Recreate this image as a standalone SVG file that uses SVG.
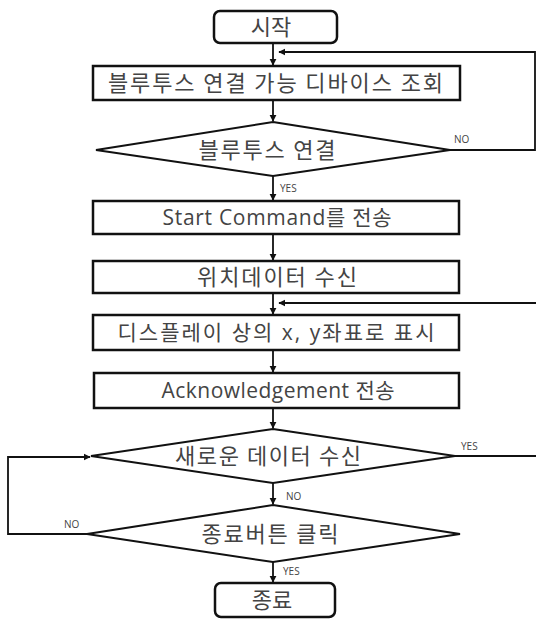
<svg xmlns="http://www.w3.org/2000/svg" width="536" height="619" viewBox="0 0 536 619">
<style>
.box{fill:#fff;stroke:#111;stroke-width:2.5}
.dia{fill:#fff;stroke:#111;stroke-width:2}
.t{font-family:"Open Sans","Noto Sans CJK KR",sans-serif;font-size:21px;fill:#444;text-anchor:middle}
.k{font-family:"Noto Sans CJK KR",sans-serif;font-size:22px;fill:#444;text-anchor:middle}
.lb{font-family:"Open Sans","Liberation Sans",sans-serif;font-size:10px;fill:#444}
.c{fill:none;stroke:#111;stroke-width:1.8}
</style>
<defs>
<marker id="ah" viewBox="0 0 10 10" refX="9" refY="5" markerWidth="4" markerHeight="4" orient="auto" markerUnits="strokeWidth">
<path d="M0,0 L10,5 L0,10 z" fill="#111"/>
</marker>
</defs>
<rect width="536" height="619" fill="#fff"/>
<g id="connectors">
<line class="c" x1="273" y1="43" x2="273" y2="65" marker-end="url(#ah)"/>
<line class="c" x1="273" y1="100" x2="273" y2="121" marker-end="url(#ah)"/>
<line class="c" x1="273" y1="176" x2="273" y2="200" marker-end="url(#ah)"/>
<line class="c" x1="273" y1="234" x2="273" y2="260" marker-end="url(#ah)"/>
<line class="c" x1="273" y1="293" x2="273" y2="314" marker-end="url(#ah)"/>
<line class="c" x1="273" y1="350" x2="273" y2="372" marker-end="url(#ah)"/>
<line class="c" x1="273" y1="408" x2="273" y2="428" marker-end="url(#ah)"/>
<line class="c" x1="273" y1="483" x2="273" y2="504" marker-end="url(#ah)"/>
<line class="c" x1="273" y1="562" x2="273" y2="582" marker-end="url(#ah)"/>
<polyline class="c" points="450,150 535,150 535,52 279,52" marker-end="url(#ah)"/>
<line class="c" x1="536" y1="303" x2="279" y2="303" marker-end="url(#ah)"/>
<line class="c" x1="455" y1="456" x2="536" y2="456"/>
<polyline class="c" points="87,534 8,534 8,457 90,457" marker-end="url(#ah)"/>
<text class="lb" x="454" y="143">NO</text>
<text class="lb" x="280" y="192">YES</text>
<text class="lb" x="461" y="450">YES</text>
<text class="lb" x="286" y="500">NO</text>
<text class="lb" x="64" y="528">NO</text>
<text class="lb" x="283" y="575">YES</text>
</g>
<g id="start">
<rect class="box" x="214" y="11" width="123" height="32" rx="6"/>
<text class="k" x="271" y="35">시작</text>
</g>
<g id="scan">
<rect class="box" x="93" y="66" width="367" height="34"/>
<text class="k" x="275.5" y="91" textLength="335" lengthAdjust="spacing">블루투스 연결 가능 디바이스 조회</text>
</g>
<g id="connect">
<polygon class="dia" points="273,122 450,150 273,176 96,150"/>
<text class="k" x="267" y="158" textLength="137" lengthAdjust="spacing">블루투스 연결</text>
</g>
<g id="sendstart">
<rect class="box" x="93" y="201" width="366" height="33"/>
<text class="t" x="277" y="225" textLength="229" lengthAdjust="spacing">Start Command를 전송</text>
</g>
<g id="recvpos">
<rect class="box" x="93" y="261" width="366" height="32"/>
<text class="k" x="277" y="285" textLength="160" lengthAdjust="spacing">위치데이터 수신</text>
</g>
<g id="display">
<rect class="box" x="93" y="315" width="366" height="35"/>
<text class="t" x="276" y="340" textLength="317" lengthAdjust="spacing">디스플레이 상의 x, y좌표로 표시</text>
</g>
<g id="ack">
<rect class="box" x="94" y="373" width="365" height="35"/>
<text class="t" x="278" y="398" textLength="233" lengthAdjust="spacing">Acknowledgement 전송</text>
</g>
<g id="newdata">
<polygon class="dia" points="273,429 455,456 273,483 91,456"/>
<text class="k" x="268" y="464" textLength="186" lengthAdjust="spacing">새로운 데이터 수신</text>
</g>
<g id="endbtn">
<polygon class="dia" points="273,505 460,534 273,562 87,534"/>
<text class="k" x="270" y="542" textLength="137" lengthAdjust="spacing">종료버튼 클릭</text>
</g>
<g id="end">
<rect class="box" x="215" y="583" width="120" height="34" rx="6"/>
<text class="k" x="272" y="608">종료</text>
</g>
</svg>
